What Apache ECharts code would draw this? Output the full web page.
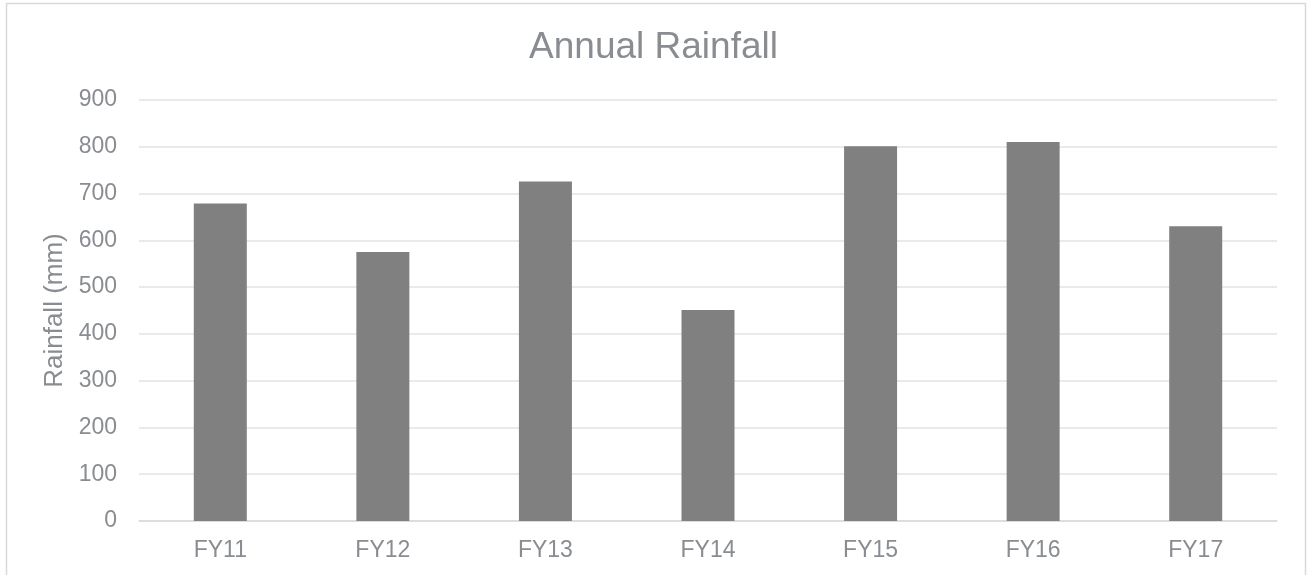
<!DOCTYPE html>
<html>
<head>
<meta charset="utf-8">
<title>Annual Rainfall</title>
<script src="https://cdn.jsdelivr.net/npm/echarts@6/dist/echarts.min.js"></script>
<style>
  html, body { margin: 0; padding: 0; background: #fff; }
  #chart { width: 1307px; height: 575px; }
</style>
</head>
<body>
<div id="chart"></div>
<script>
// data
const years = ["FY11", "FY12", "FY13", "FY14", "FY15", "FY16", "FY17"];
const rainfall = [679, 575, 726, 451, 801, 810, 630];
const yTicks = { min: 0, max: 900, step: 100 };

const textGray = "#898d91";
const font = "'Liberation Sans', Arial, sans-serif";

const chart = echarts.init(document.getElementById("chart"));

chart.setOption({
  animation: false,
  backgroundColor: "#fff",
  textStyle: { fontFamily: font },
  title: {
    text: "Annual Rainfall",
    left: "center",
    top: 29,
    padding: 0,
    textStyle: { color: textGray, fontSize: 37, fontWeight: "normal", fontFamily: font }
  },
  // thin frame round the chart area, like the original
  graphic: [{
    type: "rect",
    silent: true,
    shape: { x: 6.5, y: 3.5, width: 1299, height: 620 },
    style: { fill: "none", stroke: "#d9d9d9", lineWidth: 1.5 }
  }],
  grid: { left: 139, right: 30, top: 100, bottom: 54 },
  xAxis: {
    type: "category",
    data: years,
    axisTick: { show: false },
    axisLine: { lineStyle: { color: "#d9d9d9", width: 1.5 } },
    axisLabel: { color: textGray, fontSize: 23, margin: 18, fontFamily: font }
  },
  yAxis: {
    type: "value",
    min: yTicks.min,
    max: yTicks.max,
    interval: yTicks.step,
    name: "Rainfall (mm)",
    nameLocation: "middle",
    nameGap: 68,
    nameTextStyle: { color: textGray, fontSize: 26, fontFamily: font },
    axisLine: { show: false },
    axisTick: { show: false },
    axisLabel: { color: textGray, fontSize: 23, margin: 22, fontFamily: font },
    splitLine: { lineStyle: { color: "#e3e3e3", width: 1.5 } }
  },
  series: [{
    name: "Rainfall",
    type: "bar",
    data: rainfall,
    barWidth: 53,
    itemStyle: { color: "#808080" }
  }]
});
</script>
</body>
</html>
